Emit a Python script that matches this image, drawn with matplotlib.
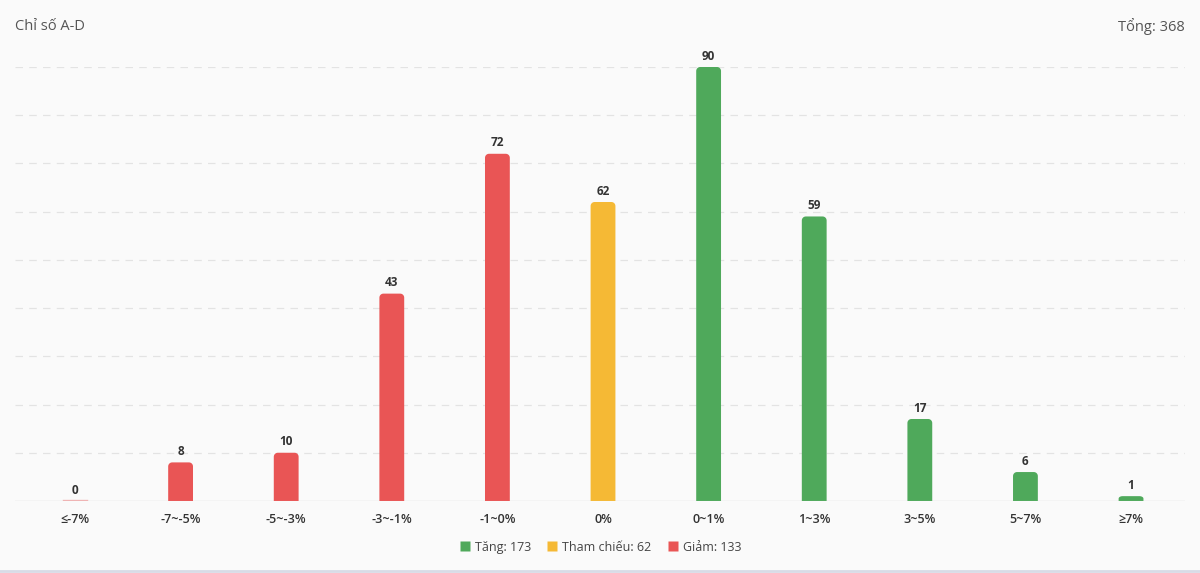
import numpy as np
import matplotlib.pyplot as plt
from matplotlib.patches import Polygon
from matplotlib.lines import Line2D

plt.rcParams['font.family'] = ['Open Sans', 'DejaVu Sans']

categories = ['≤-7%', '-7~-5%', '-5~-3%', '-3~-1%', '-1~0%', '0%', '0~1%', '1~3%', '3~5%', '5~7%', '≥7%']
counts = [0, 8, 10, 43, 72, 62, 90, 59, 17, 6, 1]
groups = ['down', 'down', 'down', 'down', 'down', 'ref', 'up', 'up', 'up', 'up', 'up']

colors = {'up': '#4fa95b', 'ref': '#f5b935', 'down': '#e95555'}
legend_labels = {'up': 'Tăng: 173', 'ref': 'Tham chiếu: 62', 'down': 'Giảm: 133'}

fig = plt.figure(figsize=(12, 5.73), dpi=100, facecolor='#fafafa')
ax = fig.add_axes([0.0125, 0.1257, 0.975, 0.7574])
ax.set_facecolor('#fafafa')

x = range(len(categories))
width = 0.235
ax.set_xlim(-0.568, len(categories) - 0.489)
ax.set_ylim(0, 90)

for yv in range(10, 91, 10):
    ax.axhline(yv, color='#e3e3e3', linewidth=0.9, linestyle=(0, (6, 5)), zorder=0)
ax.axhline(0, color='#dddddd', linewidth=1.0, zorder=0)

# corner radius of ~4px converted to data units
px_x = 1170 / (ax.get_xlim()[1] - ax.get_xlim()[0])
px_y = 434 / 90
rx, ry = 4 / px_x, 4 / px_y
t = np.linspace(0, np.pi / 2, 8)


def rounded_bar(xc, h, w):
    r_y = min(ry, h / 2)
    x0, x1 = xc - w / 2, xc + w / 2
    left = np.column_stack([x0 + rx - rx * np.cos(t), h - r_y + r_y * np.sin(t)])
    right = np.column_stack([x1 - rx + rx * np.sin(t), h - r_y + r_y * np.cos(t)])
    return np.vstack([[[x0, 0]], left, right, [[x1, 0]]])


for i, (v, g) in enumerate(zip(counts, groups)):
    if v > 0:
        ax.add_patch(Polygon(rounded_bar(i, v, width), closed=True,
                             facecolor=colors[g], edgecolor='none', zorder=2))
    else:
        ax.plot([i - width / 2, i + width / 2], [0.1, 0.1], color=colors[g], alpha=0.4, lw=1, zorder=2)
    ax.text(i, v + 0.9, str(v), ha='center', va='bottom', fontsize=8.5,
            fontweight='bold', color='#333333')

ax.set_xticks(list(x))
ax.set_xticklabels(categories, fontsize=9, color='#333333', fontweight='semibold')
ax.tick_params(axis='x', length=0, pad=9)
ax.set_yticks([])
for s in ax.spines.values():
    s.set_visible(False)

fig.text(0.0125, 0.953, 'Chỉ số A-D', fontsize=10.5, color='#555555', ha='left', va='center')
fig.text(0.987, 0.953, 'Tổng: 368', fontsize=10.5, color='#555555', ha='right', va='center')

handles = [Line2D([], [], marker='s', linestyle='none', markersize=6.5,
                  markerfacecolor=colors[k], markeredgecolor='none') for k in ['up', 'ref', 'down']]
fig.legend(handles, [legend_labels[k] for k in ['up', 'ref', 'down']],
           loc='center', bbox_to_anchor=(0.5, 0.045), ncol=3, frameon=False,
           fontsize=9, handletextpad=0.3, columnspacing=1.2,
           labelcolor='#444444', handlelength=1.0)

fig.add_artist(Line2D([0, 1], [0.003, 0.003], color='#d8dbe6', linewidth=2, transform=fig.transFigure))

fig.savefig('out.png', dpi=100, facecolor=fig.get_facecolor())
